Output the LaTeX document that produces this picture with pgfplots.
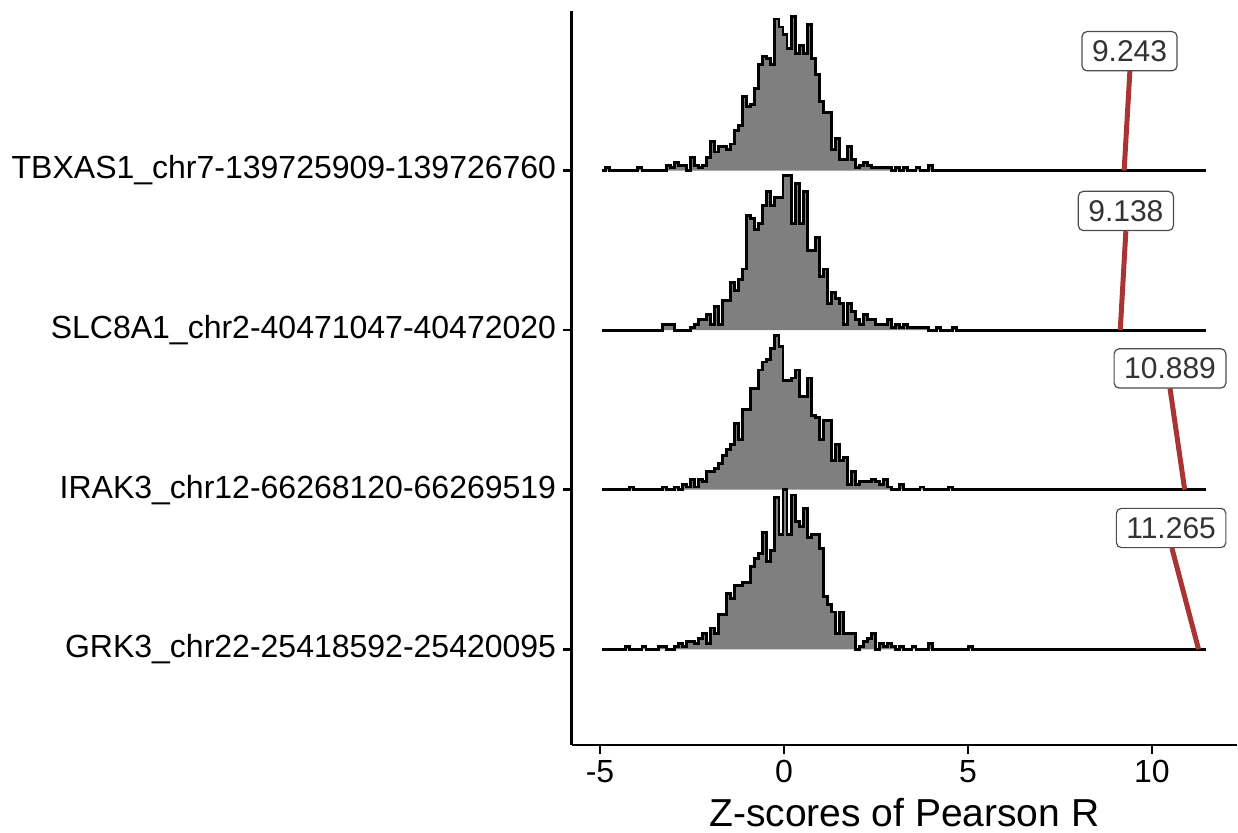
\documentclass[border=0pt]{standalone}
\usepackage{fontspec}
\setmainfont{Liberation Sans}
\usepackage{pgfplots}
\usepackage{pgfplotstable}
\pgfplotsset{compat=1.18}

\definecolor{nullfill}{RGB}{127,127,127}
\definecolor{obsred}{RGB}{168,52,52}

% Binned null distributions (counts per bin, left bin edge in x)
% T = TBXAS1, S = SLC8A1, I = IRAK3, G = GRK3
\pgfplotstableread{
x T S I G
-4.955 0 0 0 0
-4.846 1 0 0 0
-4.736 0 0 0 0
-4.627 0 0 0 0
-4.517 0 0 0 0
-4.408 0 0 0 0
-4.298 0 0 0 1
-4.189 0 0 1 0
-4.079 0 0 0 0
-3.970 1 0 0 0
-3.860 0 0 0 1
-3.751 0 0 0 0
-3.641 0 0 0 0
-3.532 0 0 0 0
-3.422 0 0 0 1
-3.313 0 2 1 1
-3.203 2 2 0 0
-3.094 1 2 0 0
-2.984 3 0 1 1
-2.875 2 0 0 2
-2.765 2 0 2 1
-2.656 0 0 1 3
-2.546 5 1 4 3
-2.437 2 2 1 2
-2.327 1 4 4 4
-2.218 2 4 3 6
-2.108 5 6 7 2
-1.999 11 2 7 8
-1.889 7 9 8 6
-1.780 9 2 10 13
-1.670 9 11 13 13
-1.561 8 11 15 21
-1.451 10 18 17 19
-1.342 15 15 25 24
-1.232 17 19 19 24
-1.123 28 23 30 25
-1.013 24 43 30 25
-0.904 25 42 38 31
-0.794 31 38 38 34
-0.685 40 40 45 36
-0.575 43 47 48 44
-0.466 42 52 49 33
-0.356 40 47 53 37
-0.247 57 50 58 57
-0.137 54 50 54 43
-0.028 51 58 41 60
0.082 46 58 41 43
0.192 58 40 42 58
0.301 44 55 45 48
0.411 47 40 35 46
0.520 44 52 35 53
0.630 55 30 42 42
0.739 42 30 28 43
0.849 36 35 27 43
0.958 26 20 19 38
1.068 22 23 26 20
1.177 22 10 26 17
1.287 8 14 11 14
1.396 12 12 17 6
1.506 4 10 11 14
1.615 4 2 12 6
1.725 9 10 2 6
1.834 4 7 7 6
1.944 1 4 2 0
2.053 2 2 3 1
2.163 3 6 3 3
2.272 2 4 3 4
2.382 1 4 4 6
2.491 1 2 3 0
2.601 1 2 2 2
2.710 1 2 4 1
2.820 1 4 1 2
2.929 0 1 0 1
3.039 1 2 0 0
3.148 0 1 2 1
3.258 1 2 0 0
3.367 0 1 0 0
3.477 0 1 0 1
3.586 1 1 0 0
3.696 0 1 1 0
3.805 0 1 0 0
3.915 2 0 0 2
4.024 0 0 0 0
4.134 0 1 0 0
4.243 0 0 0 0
4.353 0 0 0 0
4.462 0 0 1 0
4.572 0 1 0 0
4.681 0 0 0 0
4.791 0 0 0 0
4.900 0 0 0 0
5.010 0 0 0 1
5.119 0 0 0 0
11.470 0 0 0 0
}\nullhist

% counts per ridge height unit
\def\cscale{60}

\begin{document}
\begin{tikzpicture}
\useasboundingbox (-285.85pt,-43.5pt) rectangle (333.15pt,372.5pt);
\begin{axis}[
  scale only axis, width=332.65pt, height=367pt,
  xmin=-5.77, xmax=12.31, ymin=0.4, ymax=5.0,
  axis x line*=bottom, axis y line*=left,
  axis line style={line width=1.3pt, black},
  tick align=outside, major tick length=4.25pt,
  tick style={line width=1.3pt, black},
  xtick={-5,0,5,10}, xticklabels={-5,0,5,10},
  ytick={1,2,3,4},
  yticklabels={GRK3\_chr22-25418592-25420095,
               IRAK3\_chr12-66268120-66269519,
               SLC8A1\_chr2-40471047-40472020,
               TBXAS1\_chr7-139725909-139726760},
  ticklabel style={font=\fontsize{16}{19}\selectfont, text=black},
  xlabel={Z-scores of Pearson R},
  xlabel style={font=\fontsize{19.5}{23}\selectfont,
                at={(axis description cs:0.5,0)}, anchor=base, yshift=-40.5pt},
  ridge/.style={const plot, fill=nullfill, draw=black, line width=1.45pt, line join=miter},
]
\addplot[ridge] table[x=x, y expr=\thisrow{T}/\cscale+4] {\nullhist};
\addplot[ridge] table[x=x, y expr=\thisrow{S}/\cscale+3] {\nullhist};
\addplot[ridge] table[x=x, y expr=\thisrow{I}/\cscale+2] {\nullhist};
\addplot[ridge] table[x=x, y expr=\thisrow{G}/\cscale+1] {\nullhist};

% observed z-scores with their labels
\addplot[obsred, line width=2.5pt] coordinates {(9.243,4) (9.40,4.625)};
\addplot[obsred, line width=2.5pt] coordinates {(9.138,3) (9.29,3.62)};
\addplot[obsred, line width=2.5pt] coordinates {(10.889,2) (10.49,2.635)};
\addplot[obsred, line width=2.5pt] coordinates {(11.265,1) (10.54,1.635)};

\tikzset{obslab/.style={draw=black!70, fill=white, rounded corners=2.5pt,
  inner xsep=5pt, inner ysep=4.5pt, line width=0.6pt,
  font=\fontsize{15}{18}\selectfont, text=black!80}}
\node[obslab] at (axis cs:9.39,4.748) {9.243};
\node[obslab] at (axis cs:9.29,3.747) {9.138};
\node[obslab] at (axis cs:10.49,2.76) {10.889};
\node[obslab] at (axis cs:10.52,1.76) {11.265};
\end{axis}
\end{tikzpicture}
\end{document}
